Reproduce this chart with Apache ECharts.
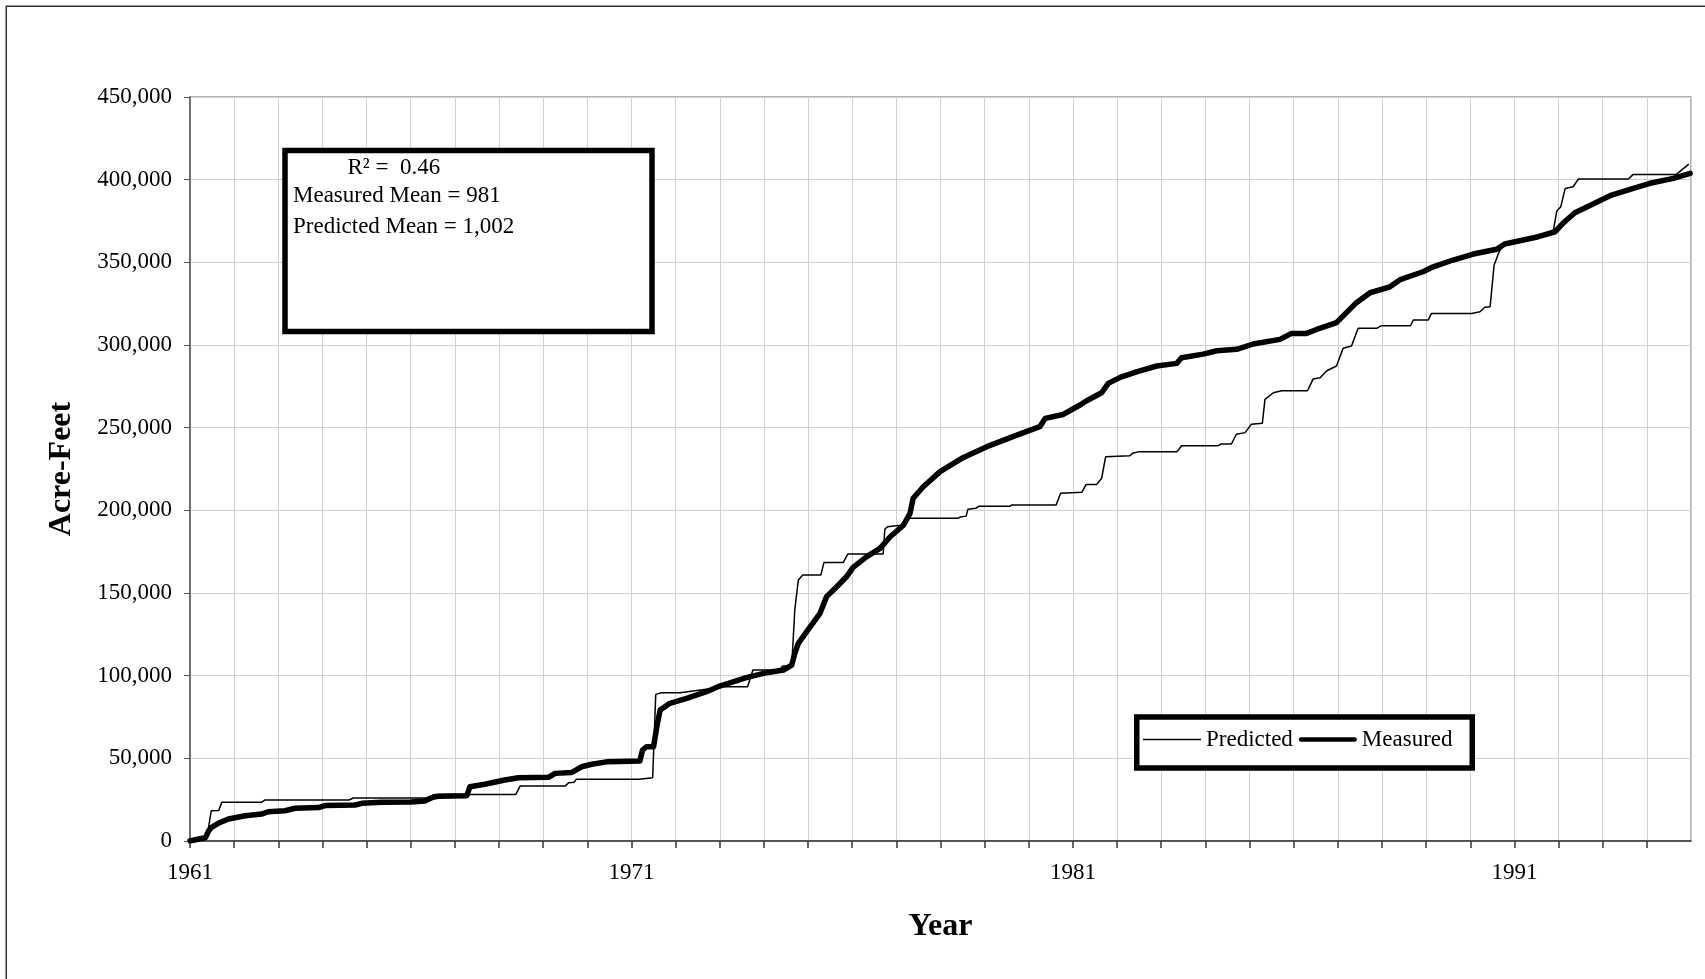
<!DOCTYPE html>
<html>
<head>
<meta charset="utf-8">
<script src="https://cdn.jsdelivr.net/npm/echarts@6/dist/echarts.min.js"></script>
<style>
html,body{margin:0;padding:0;background:#fff;}
#chart{width:1705px;height:979px;}
</style>
</head>
<body>
<div id="chart"></div>
<script>
// ---- data (year, acre-feet cumulative) ----
const seriesNames = ['Predicted', 'Measured'];
const xTickLabels = ['1961', '1971', '1981', '1991'];
const statsLines = ['R\u00B2 =  0.46', 'Measured Mean = 981', 'Predicted Mean = 1,002'];

const predicted = [
  [1961.0, 500], [1961.38, 1500], [1961.48, 18300], [1961.65, 18500], [1961.72, 23400],
  [1962.62, 23400], [1962.7, 24800], [1964.6, 24800], [1964.7, 26000], [1966.35, 26000],
  [1966.55, 28200], [1968.38, 28200], [1968.48, 33300], [1969.5, 33300], [1969.58, 35300],
  [1969.7, 35500], [1969.75, 37300], [1971.18, 37300], [1971.22, 38300], [1971.48, 38300],
  [1971.55, 88700], [1971.68, 89700], [1972.1, 89700], [1972.9, 92500], [1973.0, 93300],
  [1973.63, 93300], [1973.75, 103400], [1974.36, 103400], [1974.42, 105800], [1974.63, 105800],
  [1974.7, 140000], [1974.78, 157900], [1974.88, 160900], [1975.29, 160900], [1975.36, 168500],
  [1975.8, 168500], [1975.9, 173600], [1976.7, 173600], [1976.74, 188700], [1976.8, 190000],
  [1977.1, 191000], [1977.23, 195200], [1978.4, 195200], [1978.45, 196000], [1978.58, 196500],
  [1978.62, 200600], [1978.8, 201200], [1978.86, 202400], [1979.57, 202400], [1979.62, 203300],
  [1980.62, 203300], [1980.72, 210300], [1981.2, 210900], [1981.3, 215700], [1981.54, 215700],
  [1981.65, 219400], [1981.74, 232400], [1982.29, 233000], [1982.35, 234500], [1982.5, 235500],
  [1983.36, 235500], [1983.46, 239100], [1984.29, 239100], [1984.36, 240100], [1984.59, 240100],
  [1984.7, 246000], [1984.9, 247000], [1985.04, 252000], [1985.29, 252600], [1985.35, 267100],
  [1985.54, 271100], [1985.73, 272300], [1986.31, 272300], [1986.44, 279400], [1986.6, 280200],
  [1986.75, 284400], [1986.97, 287300], [1987.12, 298000], [1987.31, 299400], [1987.46, 310100],
  [1987.88, 310100], [1987.99, 311700], [1988.65, 311700], [1988.71, 315100], [1989.05, 315100],
  [1989.12, 319100], [1990.03, 319100], [1990.22, 320100], [1990.33, 322800], [1990.45, 323200],
  [1990.54, 348400], [1990.64, 355400], [1990.72, 359800], [1991.2, 364000], [1991.54, 366000],
  [1991.88, 369000], [1991.96, 381000], [1992.05, 383600], [1992.15, 394700], [1992.33, 395700],
  [1992.45, 400400], [1993.58, 400400], [1993.69, 403200], [1994.67, 403200], [1994.75, 405000],
  [1994.95, 409400]
];

const measured = [
  [1961.0, 0], [1961.2, 1200], [1961.35, 2000], [1961.42, 6000], [1961.49, 8300],
  [1961.64, 10700], [1961.87, 13300], [1962.25, 15300], [1962.62, 16300], [1962.77, 17700],
  [1963.15, 18300], [1963.38, 19800], [1963.91, 20200], [1964.06, 21400], [1964.74, 21800],
  [1964.89, 22800], [1965.34, 23400], [1966.0, 23600], [1966.32, 24200], [1966.5, 26500],
  [1966.62, 27000], [1967.27, 27400], [1967.34, 32800], [1967.68, 34300], [1968.13, 36900],
  [1968.44, 38300], [1969.12, 38500], [1969.27, 40900], [1969.65, 41500], [1969.87, 44900],
  [1970.1, 46400], [1970.47, 48000], [1971.19, 48400], [1971.25, 55000], [1971.34, 57000],
  [1971.5, 57000], [1971.58, 70000], [1971.65, 79200], [1971.87, 83300], [1972.25, 86300],
  [1972.7, 90300], [1973.0, 93700], [1973.6, 98800], [1974.06, 101800], [1974.44, 103400],
  [1974.63, 106400], [1974.7, 113500], [1974.78, 119600], [1974.97, 126600], [1975.27, 137700],
  [1975.42, 147800], [1975.65, 153800], [1975.87, 159800], [1976.02, 165500], [1976.33, 172000],
  [1976.63, 177000], [1976.86, 184000], [1977.16, 191000], [1977.31, 198200], [1977.38, 207300],
  [1977.61, 214300], [1977.99, 223400], [1978.52, 232000], [1979.05, 238500], [1979.73, 245500],
  [1980.25, 250600], [1980.37, 255600], [1980.78, 258000], [1981.16, 263700], [1981.31, 266300],
  [1981.65, 271100], [1981.8, 276800], [1982.07, 280400], [1982.44, 283800], [1982.9, 287300],
  [1983.35, 288900], [1983.46, 292300], [1983.95, 294500], [1984.26, 296500], [1984.71, 297400],
  [1985.08, 300600], [1985.69, 303400], [1985.95, 307000], [1986.29, 307000], [1986.52, 309400],
  [1986.97, 313500], [1987.42, 325600], [1987.73, 331600], [1988.18, 335200], [1988.41, 339500],
  [1988.93, 344300], [1989.16, 347300], [1989.61, 351400], [1990.07, 355000], [1990.6, 357900],
  [1990.78, 361100], [1991.2, 363500], [1991.54, 365500], [1991.92, 368500], [1992.1, 373600],
  [1992.37, 380000], [1992.78, 385300], [1993.2, 390700], [1993.62, 394100], [1994.07, 397800],
  [1994.6, 400800], [1994.98, 403800]
];

// ---- chart ----
const FONT = '"Liberation Serif", "Times New Roman", serif';
const chart = echarts.init(document.getElementById('chart'), null, {renderer: 'canvas'});

const option = {
  animation: false,
  backgroundColor: '#ffffff',
  textStyle: {fontFamily: FONT, color: '#000'},
  grid: {
    left: 190, right: 14, top: 97, bottom: 138,
    show: true, borderColor: '#9a9a9a', borderWidth: 1.5, backgroundColor: 'transparent'
  },
  xAxis: {
    type: 'value', min: 1961, max: 1995, interval: 1,
    name: 'Year', nameLocation: 'middle', nameGap: 70,
    nameTextStyle: {fontFamily: FONT, fontSize: 32, fontWeight: 'bold', color: '#000'},
    axisLine: {show: true, onZero: false, lineStyle: {color: '#333', width: 1.5}},
    axisTick: {show: true, length: 7, lineStyle: {color: '#333', width: 1.5}},
    axisLabel: {
      fontFamily: FONT, fontSize: 23, color: '#000', margin: 20, showMaxLabel: false,
      formatter: v => xTickLabels.includes(String(Math.round(v))) ? String(Math.round(v)) : ''
    },
    splitLine: {show: true, lineStyle: {color: '#d0d0d0', width: 1}}
  },
  yAxis: {
    type: 'value', min: 0, max: 450000, interval: 50000,
    name: 'Acre-Feet', nameLocation: 'middle', nameGap: 112, nameRotate: 90,
    nameTextStyle: {fontFamily: FONT, fontSize: 32, fontWeight: 'bold', color: '#000'},
    axisLine: {show: true, lineStyle: {color: '#555', width: 1.5}},
    axisTick: {show: true, length: 6, lineStyle: {color: '#555', width: 1}},
    axisLabel: {
      fontFamily: FONT, fontSize: 23, color: '#000', margin: 18,
      formatter: v => v.toLocaleString('en-US')
    },
    splitLine: {show: true, lineStyle: {color: '#d0d0d0', width: 1.2}}
  },
  legend: {
    left: 1138, top: 723,
    itemWidth: 58, itemHeight: 24, itemGap: 6,
    symbolKeepAspect: true,
    textStyle: {fontFamily: FONT, fontSize: 23, color: '#000'},
    data: [
      {name: seriesNames[0], icon: 'path://M0,0H56V1.5H0Z', itemStyle: {color: '#000'}},
      {name: seriesNames[1], icon: 'path://M2.5,0H59.5A2.5,2.5 0 0 1 59.5,5H2.5A2.5,2.5 0 0 1 2.5,0Z', itemStyle: {color: '#000'}}
    ],
    z: 20
  },
  graphic: [
    // outer chart frame (only top/left visible in the picture)
    {type: 'rect', left: 5.5, top: 5.5, shape: {x: 0, y: 0, width: 1800, height: 1100}, silent: true,
      style: {fill: 'transparent', stroke: '#333', lineWidth: 1.5}, z: 0},
    // stats text box
    {type: 'rect', shape: {x: 285, y: 150.5, width: 367, height: 181},
      style: {fill: '#fff', stroke: '#000', lineWidth: 5.5}, z: 10},
    {type: 'text', x: 347.5, y: 168, z: 11,
      style: {text: statsLines[0], font: '23px ' + FONT, fill: '#000', textVerticalAlign: 'middle'}},
    {type: 'text', x: 293, y: 196, z: 11,
      style: {text: statsLines[1], font: '23px ' + FONT, fill: '#000', textVerticalAlign: 'middle'}},
    {type: 'text', x: 293, y: 226.5, z: 11,
      style: {text: statsLines[2], font: '23px ' + FONT, fill: '#000', textVerticalAlign: 'middle'}},
    // legend frame
    {type: 'rect', shape: {x: 1136.75, y: 717, width: 335.5, height: 51},
      style: {fill: '#fff', stroke: '#000', lineWidth: 5.5}, z: 10}
  ],
  series: [
    {
      name: seriesNames[0], type: 'line', data: predicted, showSymbol: false, symbol: 'none',
      lineStyle: {color: '#000', width: 1.5}, itemStyle: {color: '#000'}, z: 3
    },
    {
      name: seriesNames[1], type: 'line', data: measured, showSymbol: false, symbol: 'none',
      lineStyle: {color: '#000', width: 5.5, join: 'round', cap: 'round'}, itemStyle: {color: '#000'}, z: 4
    }
  ]
};
chart.setOption(option);
</script>
</body>
</html>
